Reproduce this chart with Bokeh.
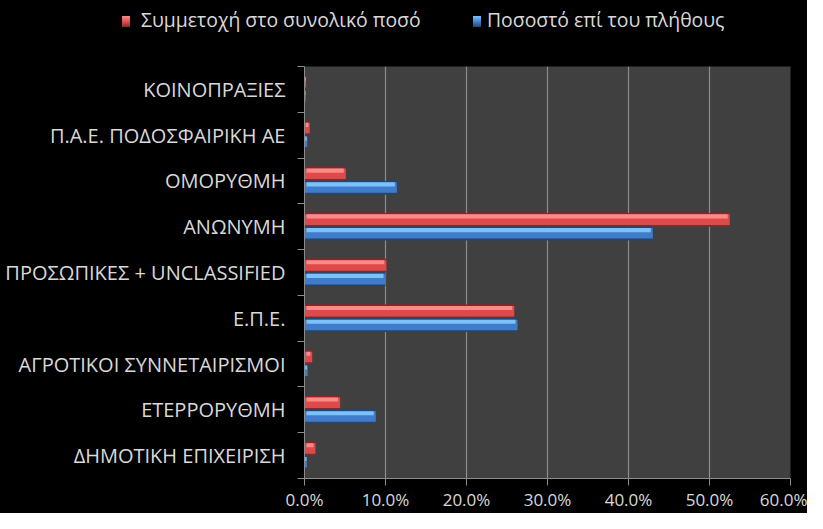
import numpy as np
from bokeh.plotting import figure
from bokeh.layouts import column
from bokeh.models import (ColumnDataSource, FixedTicker, PrintfTickFormatter,
                          Range1d, Div)
from bokeh.transform import dodge
from bokeh.embed import file_html
from bokeh.resources import INLINE

# ---- data (top to bottom as shown) ----
categories = ["ΚΟΙΝΟΠΡΑΞΙΕΣ", "Π.Α.Ε. ΠΟΔΟΣΦΑΙΡΙΚΗ ΑΕ", "ΟΜΟΡΥΘΜΗ", "ΑΝΩΝΥΜΗ",
              "ΠΡΟΣΩΠΙΚΕΣ + UNCLASSIFIED", "Ε.Π.Ε.", "ΑΓΡΟΤΙΚΟΙ ΣΥΝΝΕΤΑΙΡΙΣΜΟΙ",
              "ΕΤΕΡΡΟΡΥΘΜΗ", "ΔΗΜΟΤΙΚΗ ΕΠΙΧΕΙΡΙΣΗ"]
share_of_total = [0.2, 0.65, 5.1, 52.5, 10.1, 25.9, 0.95, 4.4, 1.35]   # Συμμετοχή στο συνολικό ποσό
share_of_count = [0.15, 0.35, 11.4, 43.0, 10.0, 26.3, 0.4, 8.8, 0.3]   # Ποσοστό επί του πλήθους
series_labels = ["Συμμετοχή στο συνολικό ποσό", "Ποσοστό επί του πλήθους"]
x_ticks = [0, 10, 20, 30, 40, 50, 60]

FONT = "Open Sans"
TXT = "#D9D9D9"
GRID = "#8C8C8C"
RED = ("#8E2424", "#DE4A4A", "#F88A8A")
BLUE = ("#1E4678", "#3F7DCC", "#7CC2F8")

n = len(categories)
centers = [n - 1 - i + 0.5 for i in range(n)]
bounds = list(range(n + 1))

red = np.array(share_of_total)
blue = np.array(share_of_count)
src = ColumnDataSource(dict(
    y=centers, red=red, blue=blue,
    red_hl_l=np.minimum(0.25, red / 4), red_hl_r=np.maximum(red - 0.25, red * 3 / 4),
    blue_hl_l=np.minimum(0.25, blue / 4), blue_hl_r=np.maximum(blue - 0.25, blue * 3 / 4),
))

LEG_H = 48
p = figure(width=807, height=513 - LEG_H, output_backend="svg", toolbar_location=None,
           x_range=Range1d(0, 60), y_range=Range1d(0, n),
           min_border_left=304, min_border_right=17, min_border_top=66 - LEG_H, min_border_bottom=32)
p.background_fill_color = "#404040"
p.border_fill_color = "black"
p.outline_line_color = None

# red series (upper bar of each pair)
p.hbar(y=dodge("y", 0.15, range=p.y_range), left=0, right="red", height=0.30, source=src,
       fill_color=RED[0], line_color=None)
p.hbar(y=dodge("y", 0.155, range=p.y_range), left=0, right="red", height=0.23, source=src,
       fill_color=RED[1], line_color=None)
p.hbar(y=dodge("y", 0.225, range=p.y_range), left="red_hl_l", right="red_hl_r", height=0.09, source=src,
       fill_color=RED[2], line_color=None)

# blue series (lower bar of each pair)
p.hbar(y=dodge("y", -0.15, range=p.y_range), left=0, right="blue", height=0.30, source=src,
       fill_color=BLUE[0], line_color=None)
p.hbar(y=dodge("y", -0.145, range=p.y_range), left=0, right="blue", height=0.23, source=src,
       fill_color=BLUE[1], line_color=None)
p.hbar(y=dodge("y", -0.075, range=p.y_range), left="blue_hl_l", right="blue_hl_r", height=0.09, source=src,
       fill_color=BLUE[2], line_color=None)

# x axis
p.xaxis.ticker = FixedTicker(ticks=x_ticks)
p.xaxis.formatter = PrintfTickFormatter(format="%.1f%%")
p.xaxis.axis_line_color = GRID
p.xaxis.major_tick_line_color = GRID
p.xaxis.major_tick_out = 7
p.xaxis.major_tick_in = 0
p.xaxis.minor_tick_line_color = None
p.xaxis.major_label_standoff = 2
p.xaxis.major_label_text_font = FONT
p.xaxis.major_label_text_font_size = "17px"
p.xaxis.major_label_text_color = TXT

# y axis: labels at centres, ticks at category boundaries
p.yaxis.ticker = FixedTicker(ticks=centers, minor_ticks=bounds)
p.yaxis.major_label_overrides = {c: lab for c, lab in zip(centers, categories)}
p.yaxis.axis_line_color = GRID
p.yaxis.major_tick_line_color = None
p.yaxis.major_tick_out = 0
p.yaxis.major_tick_in = 0
p.yaxis.minor_tick_line_color = GRID
p.yaxis.minor_tick_out = 7
p.yaxis.minor_tick_in = 0
p.yaxis.major_label_standoff = 12
p.yaxis.major_label_text_font = FONT
p.yaxis.major_label_text_font_size = "20px"
p.yaxis.major_label_text_color = TXT

p.xgrid.ticker = FixedTicker(ticks=x_ticks)
p.xgrid.grid_line_color = GRID
p.xgrid.grid_line_width = 1.2
p.ygrid.grid_line_color = None

# ---- legend strip above the chart (HTML text) ----
def swatch(left, cols):
    return (f'<span style="position:absolute;left:{left}px;top:16px;width:8px;height:11px;'
            f'background:linear-gradient({cols[2]},{cols[1]} 55%,{cols[0]});"></span>')

def label(left, txt):
    return (f'<span style="position:absolute;left:{left}px;top:6px;line-height:28px;'
            f'white-space:nowrap;">{txt}</span>')

legend_html = (
    f'<div style="position:relative;width:807px;height:{LEG_H}px;background:black;'
    f'font-family:\'{FONT}\';font-size:19.4px;color:{TXT};">'
    + swatch(122, RED) + label(141, series_labels[0])
    + swatch(473, BLUE) + label(487, series_labels[1])
    + '</div>'
)
lg = Div(text=legend_html, width=807, height=LEG_H,
         styles={"margin": "0", "padding": "0", "background-color": "black"})

page = column(lg, p, spacing=0)
page.styles = {"background-color": "black"}
open("out.html", "w").write(file_html(page, INLINE))
